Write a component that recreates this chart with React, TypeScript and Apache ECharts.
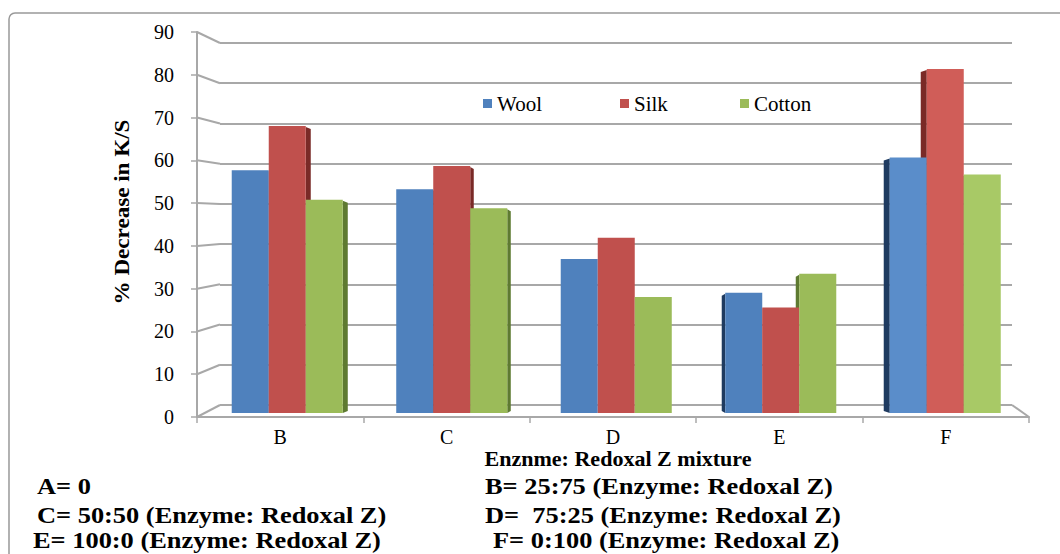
import React, { useEffect, useRef } from "react";
import * as echarts from "echarts";

// ---- data ----
const CATEGORIES = ["B", "C", "D", "E", "F"];
const SERIES_NAMES = ["Wool", "Silk", "Cotton"];
const WOOL = [57.5, 53, 36.5, 28.5, 60.5];
const SILK = [68, 58.5, 41.5, 25, 81.5];
const COTTON = [50.5, 48.5, 27.5, 33, 56.5];
const Y_MIN = 0;
const Y_MAX = 90;
const Y_STEP = 10;
const Y_TITLE = "% Decrease in K/S";
const X_TITLE = "Enznme: Redoxal Z mixture";
const NOTES_LEFT = ["A= 0", "C= 50:50 (Enzyme: Redoxal Z)", "E= 100:0 (Enzyme: Redoxal Z)"];
const NOTES_RIGHT = ["B= 25:75 (Enzyme: Redoxal Z)", "D=  75:25 (Enzyme: Redoxal Z)", "F= 0:100 (Enzyme: Redoxal Z)"];

// ---- style ----
const COLORS = ["#4F81BD", "#C0504D", "#9BBB59"];
const LIGHT_COLORS = ["#5A8DCA", "#D05D58", "#A8C966"];
const LIGHT_CAT = 4;
const SIDE_COLORS = ["#1F3B60", "#7A2A27", "#5E7A31"];
const SIDE_DIR = [1, 1, 0, -1, -1];
const SIDE_DEPTH = [5, 3.5, 0, 3.5, 6];
const GRID_COLOR = "#a8a8a8";
const FONT = "'Liberation Serif', 'Times New Roman', serif";
const FRONT = { left: 197, top: 32, right: 1029, bottom: 417 };
const BACK = { left: 220, top: 43, right: 1012, bottom: 405 };
const BARS = { left: 205, top: 33, right: 1027.5, bottom: 413 };
const GAP = 0.325;

export default function App() {
  const ref = useRef<HTMLDivElement>(null);
  useEffect(() => {
    if (!ref.current) return;
    const chart = echarts.init(ref.current, null, { renderer: "svg" });
    const values = [WOOL, SILK, COTTON];
    const sideData: number[][] = [];
    CATEGORIES.forEach((_, c) => {
      values.forEach((arr, s) => sideData.push([c, s, arr[c]]));
    });
    const gridOf = (g: any) => ({
      left: g.left,
      top: g.top,
      width: g.right - g.left,
      height: g.bottom - g.top,
      containLabel: false,
    });
    chart.setOption({
      animation: false,
      backgroundColor: "#fff",
      grid: [gridOf(FRONT), gridOf(BACK), gridOf(BARS)],
      legend: SERIES_NAMES.map((n, i) => ({
        data: [n],
        left: [483, 620, 740][i],
        top: 93,
        padding: 0,
        itemWidth: 9,
        itemHeight: 9,
        icon: "rect",
        itemGap: 0,
        textStyle: { fontFamily: FONT, fontSize: 21, color: "#000" },
      })),
      xAxis: [
        {
          type: "category",
          gridIndex: 0,
          data: CATEGORIES,
          boundaryGap: true,
          axisLine: { show: true, lineStyle: { color: GRID_COLOR, width: 2 } },
          axisTick: { show: true, length: 6, interval: 0, lineStyle: { color: GRID_COLOR, width: 1.5 } },
          axisLabel: { fontFamily: FONT, fontSize: 20, color: "#000", margin: 10 },
        },
        { type: "category", gridIndex: 1, data: CATEGORIES, show: false },
        { type: "category", gridIndex: 2, data: CATEGORIES, show: false },
      ],
      yAxis: [
        {
          type: "value",
          gridIndex: 0,
          min: Y_MIN,
          max: Y_MAX,
          interval: Y_STEP,
          axisLine: { show: true, lineStyle: { color: GRID_COLOR, width: 2 } },
          axisTick: { show: true, length: 6, lineStyle: { color: GRID_COLOR, width: 1.5 } },
          axisLabel: { fontFamily: FONT, fontSize: 20, color: "#000", margin: 23 },
          splitLine: { show: false },
        },
        {
          type: "value",
          gridIndex: 1,
          min: Y_MIN,
          max: Y_MAX,
          interval: Y_STEP,
          axisLine: { show: false },
          axisTick: { show: false },
          axisLabel: { show: false },
          splitLine: { show: true, lineStyle: { color: GRID_COLOR, width: 2 } },
        },
        { type: "value", gridIndex: 2, min: Y_MIN, max: Y_MAX, show: false, splitLine: { show: false } },
      ],
      series: [
        ...SERIES_NAMES.map((n, i) => ({
          name: n,
          type: "bar",
          xAxisIndex: 2,
          yAxisIndex: 2,
          data: values[i].map((v, c) =>
            c === LIGHT_CAT ? { value: v, itemStyle: { color: LIGHT_COLORS[i] } } : v
          ),
          barGap: "0%",
          barCategoryGap: GAP * 100 + "%",
          itemStyle: { color: COLORS[i] },
          z: 4,
        })),
        {
          type: "custom",
          xAxisIndex: 2,
          yAxisIndex: 2,
          z: 3,
          data: sideData,
          encode: { x: 0, y: 2 },
          renderItem: (params: any, api: any) => {
            const c = api.value(0);
            const s = api.value(1);
            const v = api.value(2);
            const dir = SIDE_DIR[c];
            const d = SIDE_DEPTH[c];
            if (!dir) return { type: "group", children: [] };
            const top = api.coord([c, v]);
            const base = api.coord([c, 0])[1];
            const catW = api.size([1, 0])[0];
            const bw = (catW * (1 - GAP)) / 3;
            const x0 = top[0] - 1.5 * bw + s * bw;
            const ex = dir > 0 ? x0 + bw : x0;
            const pts = [
              [ex, top[1] + 1],
              [ex + dir * d, top[1] + 3],
              [ex + dir * d, base - 2],
              [ex, base],
            ];
            return {
              type: "polygon",
              shape: { points: pts },
              style: { fill: SIDE_COLORS[s] },
            };
          },
        },
      ],
    });

    const ticks: number[] = [];
    for (let v = Y_MIN; v <= Y_MAX; v += Y_STEP) ticks.push(v);
    const lineStyle = { stroke: GRID_COLOR, lineWidth: 2 };
    const diag: any[] = ticks.map((v) => {
      const yf = chart.convertToPixel({ yAxisIndex: 0 }, v) as number;
      const yb = chart.convertToPixel({ yAxisIndex: 1 }, v) as number;
      return {
        type: "line",
        shape: { x1: FRONT.left, y1: yf, x2: BACK.left, y2: yb },
        style: lineStyle,
        z: 1,
      };
    });
    const yf0 = chart.convertToPixel({ yAxisIndex: 0 }, Y_MIN) as number;
    const yb0 = chart.convertToPixel({ yAxisIndex: 1 }, Y_MIN) as number;
    diag.push({
      type: "line",
      shape: { x1: BACK.right, y1: yb0, x2: FRONT.right, y2: yf0 },
      style: lineStyle,
      z: 1,
    });
    const noteStyle = (x: number, y: number, t: string) => ({
      type: "text",
      x,
      y,
      scaleX: 1.1,
      style: {
        text: t,
        fontFamily: FONT,
        fontWeight: "bold",
        fontSize: 24,
        fill: "#000",
        textAlign: "left",
        textVerticalAlign: "middle",
      },
    });
    const rows = [486, 515, 540];
    chart.setOption({
      graphic: {
        elements: [
          {
            type: "rect",
            shape: { x: 9, y: 13, width: 1100, height: 620, r: 6 },
            style: { fill: "none", stroke: "#999", lineWidth: 1.5 },
            z: 0,
          },
          ...diag,
          {
            type: "text",
            x: 122,
            y: 212,
            rotation: Math.PI / 2,
            scaleX: 1.05,
            style: {
              text: Y_TITLE,
              fontFamily: FONT,
              fontWeight: "bold",
              fontSize: 22,
              fill: "#000",
              textAlign: "center",
              textVerticalAlign: "middle",
            },
          },
          {
            type: "text",
            x: 618,
            y: 459,
            scaleX: 1.05,
            style: {
              text: X_TITLE,
              fontFamily: FONT,
              fontWeight: "bold",
              fontSize: 21,
              fill: "#000",
              textAlign: "center",
              textVerticalAlign: "middle",
            },
          },
          ...NOTES_LEFT.map((t, i) => noteStyle(i === 2 ? 33 : 37, rows[i], t)),
          ...NOTES_RIGHT.map((t, i) => noteStyle(i === 2 ? 493 : 485, rows[i], t)),
        ],
      },
    });
    return () => chart.dispose();
  }, []);
  return (
    <div
      ref={ref}
      style={{ position: "fixed", left: 0, top: 0, width: 1060, height: 554, background: "#fff" }}
    />
  );
}
